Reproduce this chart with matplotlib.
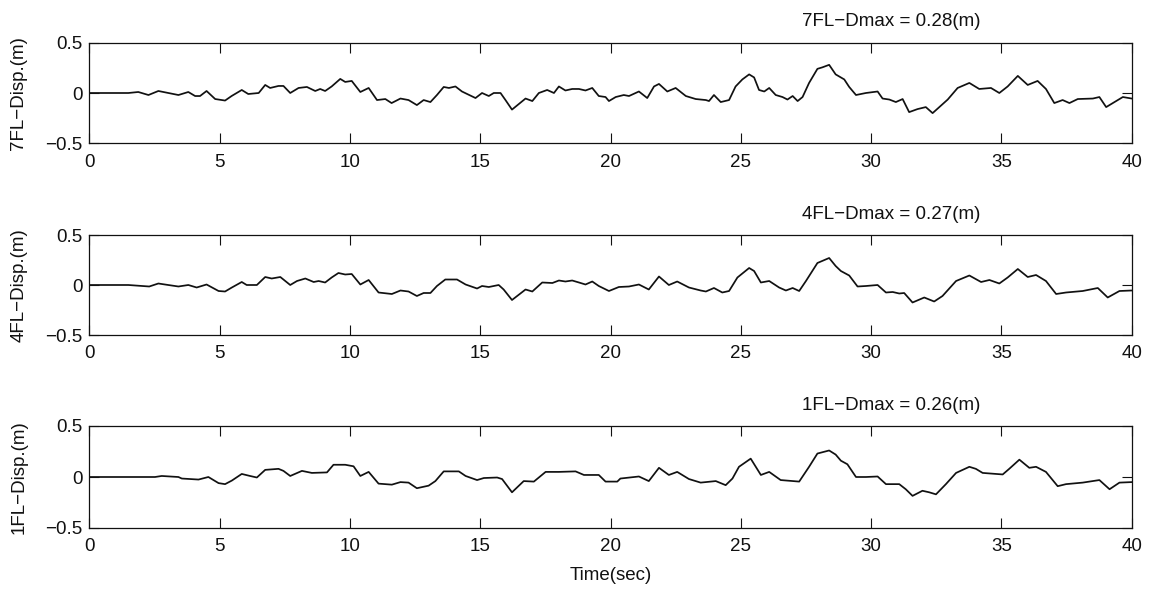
import matplotlib
matplotlib.use("Agg")
import matplotlib.pyplot as plt

# ---------------- data ----------------
t_7fl = [0, 1.5, 1.88, 2.27, 2.65, 3.03, 3.42, 3.8, 4.06, 4.25, 4.5, 4.83, 5.21, 5.46, 5.85, 6.1, 6.5,
         6.75, 6.94, 7.26, 7.45, 7.71, 8.03, 8.35, 8.67, 8.86, 9.05, 9.3, 9.63, 9.82, 10.07, 10.4, 10.72,
         11.04, 11.36, 11.6, 11.94, 12.25, 12.57, 12.83, 13.09, 13.34, 13.6, 13.8, 14.05, 14.3, 14.82,
         15.07, 15.33, 15.52, 15.78, 15.97, 16.22, 16.48, 16.74, 17.0, 17.25, 17.57, 17.83, 18.02, 18.27,
         18.53, 18.79, 19.04, 19.3, 19.55, 19.81, 19.94, 20.2, 20.51, 20.71, 21.09, 21.41, 21.67, 21.86,
         22.18, 22.5, 22.89, 23.27, 23.66, 23.78, 23.97, 24.23, 24.55, 24.8, 25.06, 25.32, 25.51, 25.7,
         25.9, 26.09, 26.34, 26.6, 26.79, 26.99, 27.18, 27.37, 27.62, 27.94, 28.13, 28.39, 28.64, 28.97,
         29.16, 29.42, 29.8, 30.25, 30.44, 30.7, 30.95, 31.21, 31.46, 31.78, 32.1, 32.36, 32.62, 32.94,
         33.32, 33.77, 34.15, 34.6, 34.92, 35.24, 35.63, 36.01, 36.39, 36.71, 37.03, 37.35, 37.61, 37.93,
         38.51, 38.76, 39.02, 39.34, 39.66, 40.0]
d_7fl = [0, 0, 0.01, -0.02, 0.02, 0, -0.02, 0.01, -0.03, -0.03, 0.02, -0.06, -0.075, -0.03, 0.03, -0.01, 0,
         0.08, 0.05, 0.07, 0.07, 0, 0.05, 0.06, 0.02, 0.04, 0.02, 0.065, 0.14, 0.11, 0.12, 0.01, 0.05,
         -0.07, -0.06, -0.1, -0.055, -0.07, -0.12, -0.07, -0.09, -0.02, 0.06, 0.05, 0.065, 0.015, -0.05,
         0, -0.03, 0, 0, -0.07, -0.165, -0.11, -0.055, -0.08, 0, 0.03, 0, 0.065, 0.025,
         0.04, 0.04, 0.025, 0.05, -0.03, -0.04, -0.08, -0.04, -0.02, -0.03, 0.015, -0.05, 0.065, 0.09,
         0.015, 0.05, -0.03, -0.06, -0.07, -0.08, -0.02, -0.09, -0.07, 0.065, 0.135, 0.185, 0.155, 0.03,
         0.015, 0.05, -0.02, -0.04, -0.065, -0.03, -0.08, -0.04, 0.1, 0.24, 0.255, 0.28, 0.185, 0.135,
         0.06, -0.02, 0, 0.015, -0.055, -0.065, -0.09, -0.06, -0.19, -0.16, -0.14, -0.2, -0.14, -0.065,
         0.05, 0.1, 0.04, 0.05, 0, 0.065, 0.17, 0.08, 0.12, 0.04, -0.1, -0.07, -0.1, -0.06,
         -0.055, -0.04, -0.14, -0.09, -0.04, -0.055]

t_4fl = [0, 1.5, 2.3, 2.65, 3.03, 3.42, 3.8, 4.12, 4.5, 4.96, 5.21, 5.47, 5.85, 6.04, 6.43, 6.75, 7.0, 7.33,
         7.71, 7.97, 8.29, 8.61, 8.8, 9.05, 9.3, 9.56, 9.82, 10.07, 10.4, 10.72, 11.1, 11.61, 11.94, 12.25,
         12.57, 12.83, 13.09, 13.34, 13.66, 14.11, 14.44, 14.88, 15.07, 15.33, 15.71, 15.9, 16.22, 16.74,
         17.0, 17.38, 17.77, 18.02, 18.27, 18.53, 18.79, 19.04, 19.3, 19.55, 19.94, 20.32, 20.71, 21.09,
         21.47, 21.86, 22.24, 22.56, 23.01, 23.46, 23.66, 23.97, 24.29, 24.55, 24.87, 25.32, 25.51, 25.77,
         26.09, 26.47, 26.73, 26.99, 27.24, 27.5, 27.94, 28.39, 28.64, 28.84, 29.16, 29.48, 29.8, 30.25,
         30.57, 30.83, 31.08, 31.27, 31.59, 32.04, 32.42, 32.74, 33.26, 33.77, 34.22, 34.54, 34.92, 35.24,
         35.63, 36.01, 36.33, 36.71, 37.1, 37.48, 38.12, 38.7, 39.08, 39.53, 40.0]
d_4fl = [0, 0, -0.015, 0.015, 0, -0.015, 0, -0.025, 0.005, -0.06, -0.065, -0.025, 0.03, 0, 0, 0.08, 0.065, 0.08,
         0, 0.04, 0.065, 0.03, 0.04, 0.025, 0.075, 0.12, 0.105, 0.11, 0.005, 0.05, -0.075, -0.09, -0.055, -0.065,
         -0.11, -0.08, -0.08, -0.01, 0.055, 0.055, 0.005, -0.035, -0.01, -0.02, 0, -0.045, -0.15, -0.045,
         -0.065, 0.025, 0.02, 0.045, 0.035, 0.045, 0.025, 0.005, 0.035, -0.01, -0.06, -0.02, -0.015, 0.005,
         -0.045, 0.085, 0, 0.035, -0.025, -0.055, -0.065, -0.03, -0.075, -0.06, 0.075, 0.17, 0.14, 0.025,
         0.04, -0.025, -0.055, -0.03, -0.06, 0.04, 0.22, 0.27, 0.19, 0.14, 0.095, -0.015, -0.01, 0,
         -0.075, -0.07, -0.085, -0.08, -0.175, -0.125, -0.165, -0.11, 0.04, 0.095, 0.03, 0.05, 0.015, 0.075,
         0.16, 0.08, 0.1, 0.04, -0.09, -0.075, -0.06, -0.03, -0.125, -0.06, -0.055]

t_1fl = [0, 2.52, 2.78, 3.42, 3.55, 4.19, 4.57, 4.96, 5.21, 5.47, 5.85, 6.17, 6.43, 6.75, 7.26, 7.45, 7.71,
         8.16, 8.54, 9.12, 9.37, 9.82, 10.14, 10.4, 10.72, 11.1, 11.61, 11.94, 12.25, 12.57, 13.02, 13.28,
         13.6, 14.18, 14.44, 14.88, 15.14, 15.65, 15.84, 16.22, 16.67, 17.06, 17.51, 18.02, 18.66, 18.98,
         19.55, 19.81, 20.26, 20.38, 21.09, 21.47, 21.86, 22.24, 22.56, 23.01, 23.46, 24.04, 24.42, 24.68,
         24.93, 25.38, 25.77, 26.09, 26.53, 27.24, 27.62, 27.94, 28.39, 28.64, 28.84, 29.09, 29.42, 29.8,
         30.25, 30.57, 31.08, 31.33, 31.59, 31.97, 32.23, 32.49, 32.87, 33.26, 33.77, 34.02, 34.28, 35.05,
         35.3, 35.69, 36.07, 36.33, 36.71, 37.16, 37.48, 38.12, 38.76, 39.15, 39.53, 40.0]
d_1fl = [0, 0, 0.01, 0, -0.015, -0.025, 0, -0.06, -0.07, -0.035, 0.03, 0.01, -0.005, 0.07, 0.08, 0.06, 0.01,
         0.06, 0.04, 0.045, 0.12, 0.12, 0.105, 0.01, 0.05, -0.065, -0.075, -0.05, -0.055, -0.11, -0.085, -0.04,
         0.055, 0.055, 0.01, -0.03, -0.01, -0.005, -0.02, -0.15, -0.04, -0.045, 0.05, 0.05, 0.055, 0.02,
         0.02, -0.045, -0.045, -0.015, 0.005, -0.04, 0.09, 0.02, 0.05, -0.02, -0.055, -0.04, -0.08, -0.015,
         0.1, 0.18, 0.02, 0.05, -0.03, -0.045, 0.1, 0.23, 0.26, 0.22, 0.16, 0.125, 0, 0,
         0.005, -0.07, -0.07, -0.12, -0.185, -0.135, -0.15, -0.17, -0.07, 0.04, 0.1, 0.08, 0.04, 0.025,
         0.08, 0.17, 0.09, 0.1, 0.05, -0.09, -0.07, -0.055, -0.03, -0.12, -0.055, -0.05]

floors = ["7FL", "4FL", "1FL"]
dmax = ["0.28", "0.27", "0.26"]
times = [t_7fl, t_4fl, t_1fl]
disps = [d_7fl, d_4fl, d_1fl]

x_ticks = [0, 5, 10, 15, 20, 25, 30, 35, 40]
x_tick_labels = ["0", "5", "10", "15", "20", "25", "30", "35", "40"]
y_ticks = [-0.5, 0, 0.5]
y_tick_labels = ["\u22120.5", "0", "0.5"]

# ---------------- plotting ----------------
plt.rcParams['font.family'] = ['Liberation Sans', 'DejaVu Sans']
FS = 13.5

W, H = 1151, 590
fig = plt.figure(figsize=(W / 100, H / 100), dpi=100)

left_px, right_px = 89.3, 1131.7
panels_px = [(42.7, 143.3), (235.0, 335.0), (426.0, 528.0)]

for i, (top, bot) in enumerate(panels_px):
    ax = fig.add_axes([left_px / W, 1 - bot / H, (right_px - left_px) / W, (bot - top) / H])
    ax.plot(times[i], disps[i], color='#111111', lw=1.25)
    ax.set_xlim(0, 40)
    ax.set_ylim(-0.5, 0.5)
    ax.set_xticks(x_ticks)
    ax.set_xticklabels(x_tick_labels)
    ax.set_yticks(y_ticks)
    ax.set_yticklabels(y_tick_labels)
    ax.tick_params(axis='both', direction='in', length=7.5, width=0.8, top=True, right=True,
                   labelsize=FS, colors='#111111')
    ax.tick_params(axis='x', pad=7.5)
    ax.tick_params(axis='y', pad=5.0)
    for sp in ax.spines.values():
        sp.set_linewidth(0.9)
        sp.set_color('#111111')
    ax.set_ylabel(f"{floors[i]}\u2212Disp.(m)", fontsize=FS, color='#111111')
    ax.yaxis.set_label_coords(-(left_px - 27.5) / (right_px - left_px), 0.5)
    ax.text(30.76, 1 + 21.0 / (bot - top), f"{floors[i]}\u2212Dmax = {dmax[i]}(m)",
            transform=ax.get_xaxis_transform(), ha='center', va='center',
            fontsize=FS, color='#111111')
    if i == 2:
        ax.set_xlabel("Time(sec)", fontsize=FS, color='#111111', labelpad=8)

fig.savefig("out.png", dpi=100)
